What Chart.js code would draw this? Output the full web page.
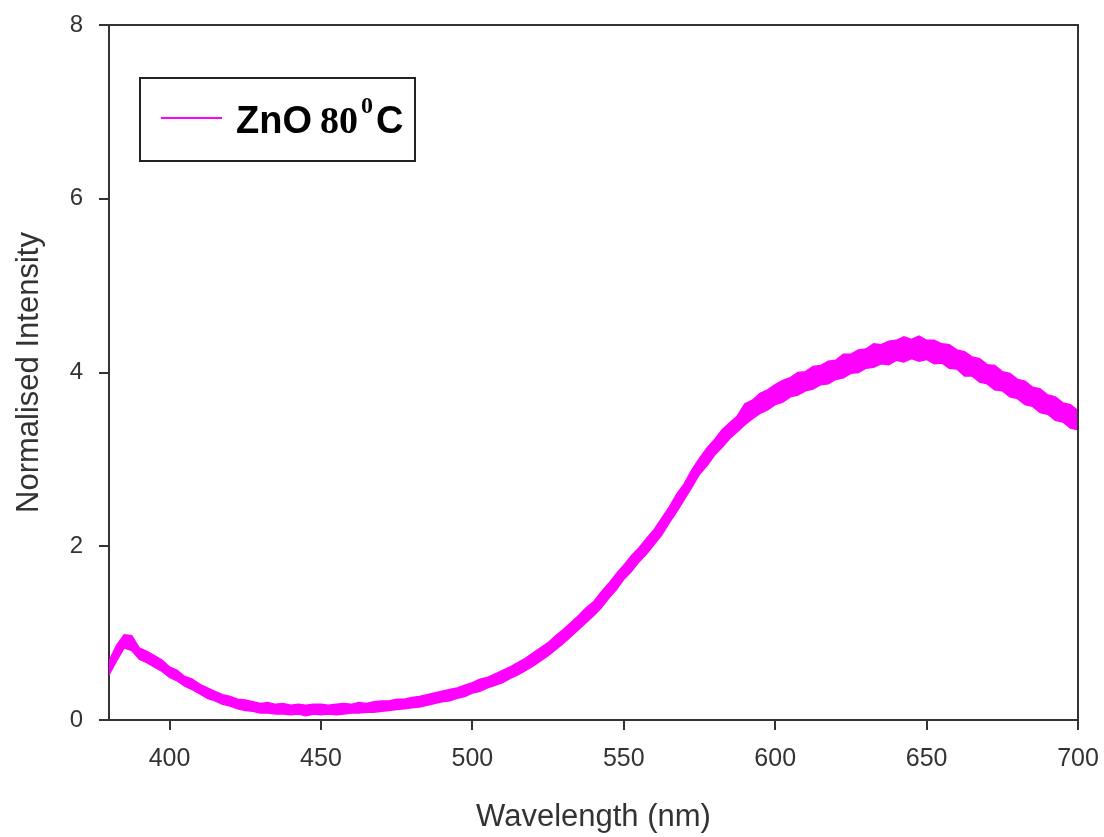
<!DOCTYPE html>
<html>
<head>
<meta charset="utf-8">
<title>ZnO 80 C spectrum</title>
<script src="https://cdn.jsdelivr.net/npm/chart.js@4.4.1/dist/chart.umd.min.js"></script>
<style>
  html, body { margin: 0; padding: 0; background: #fff; }
  canvas { display: block; }
</style>
</head>
<body>
<canvas id="c" width="1104" height="837"></canvas>
<script>
// --- data (wavelength in nm, normalised intensity) ---
// the trace is a noisy band, so it is kept as a lower and an upper edge
const wavelength = [
  380, 382.5, 385, 387.5, 390, 392.5, 395, 397.5, 400, 402.5, 405, 407.5, 410, 412.5, 415, 417.5,
  420, 422.5, 425, 427.5, 430, 432.5, 435, 437.5, 440, 442.5, 445, 447.5, 450, 452.5, 455, 457.5,
  460, 462.5, 465, 467.5, 470, 472.5, 475, 477.5, 480, 482.5, 485, 487.5, 490, 492.5, 495, 497.5,
  500, 502.5, 505, 507.5, 510, 512.5, 515, 517.5, 520, 522.5, 525, 527.5, 530, 532.5, 535, 537.5,
  540, 542.5, 545, 547.5, 550, 552.5, 555, 557.5, 560, 562.5, 565, 567.5, 570, 572.5, 575, 577.5,
  580, 582.5, 585, 587.5, 590, 592.5, 595, 597.5, 600, 602.5, 605, 607.5, 610, 612.5, 615, 617.5,
  620, 622.5, 625, 627.5, 630, 632.5, 635, 637.5, 640, 642.5, 645, 647.5, 650, 652.5, 655, 657.5,
  660, 662.5, 665, 667.5, 670, 672.5, 675, 677.5, 680, 682.5, 685, 687.5, 690, 692.5, 695, 697.5,
  700];
const bandLow = [
  0.52, 0.68, 0.83, 0.80, 0.70, 0.66, 0.61, 0.56, 0.49, 0.45, 0.39, 0.35, 0.30, 0.25, 0.22, 0.18,
  0.16, 0.13, 0.11, 0.10, 0.08, 0.08, 0.07, 0.07, 0.06, 0.07, 0.05, 0.07, 0.06, 0.07, 0.06, 0.07,
  0.08, 0.08, 0.09, 0.09, 0.10, 0.11, 0.12, 0.13, 0.14, 0.15, 0.17, 0.19, 0.21, 0.22, 0.25, 0.27,
  0.31, 0.33, 0.37, 0.40, 0.43, 0.48, 0.52, 0.57, 0.62, 0.68, 0.74, 0.81, 0.88, 0.96, 1.04, 1.12,
  1.20, 1.29, 1.40, 1.50, 1.62, 1.71, 1.82, 1.91, 2.02, 2.13, 2.27, 2.40, 2.54, 2.68, 2.83, 2.93,
  3.05, 3.14, 3.24, 3.32, 3.40, 3.47, 3.53, 3.57, 3.63, 3.66, 3.72, 3.74, 3.79, 3.81, 3.86, 3.87,
  3.92, 3.94, 3.99, 4.00, 4.05, 4.06, 4.10, 4.09, 4.14, 4.12, 4.16, 4.13, 4.15, 4.10, 4.11, 4.05,
  4.04, 3.96, 3.96, 3.89, 3.87, 3.80, 3.79, 3.72, 3.70, 3.63, 3.61, 3.54, 3.52, 3.45, 3.43, 3.36,
  3.34];
const bandHigh = [
  0.68, 0.86, 0.98, 0.97, 0.83, 0.79, 0.74, 0.69, 0.61, 0.57, 0.50, 0.47, 0.41, 0.37, 0.33, 0.29,
  0.27, 0.24, 0.23, 0.21, 0.19, 0.20, 0.18, 0.19, 0.17, 0.18, 0.17, 0.18, 0.18, 0.17, 0.18, 0.19,
  0.18, 0.20, 0.19, 0.21, 0.22, 0.22, 0.24, 0.24, 0.26, 0.27, 0.29, 0.31, 0.33, 0.35, 0.37, 0.40,
  0.43, 0.47, 0.49, 0.53, 0.57, 0.61, 0.66, 0.71, 0.77, 0.83, 0.89, 0.97, 1.04, 1.12, 1.20, 1.29,
  1.36, 1.47, 1.57, 1.68, 1.78, 1.89, 1.98, 2.09, 2.19, 2.32, 2.45, 2.60, 2.72, 2.88, 3.01, 3.13,
  3.23, 3.34, 3.42, 3.50, 3.64, 3.68, 3.76, 3.80, 3.86, 3.91, 3.94, 4.00, 4.01, 4.07, 4.08, 4.13,
  4.14, 4.21, 4.21, 4.26, 4.27, 4.33, 4.32, 4.36, 4.37, 4.41, 4.38, 4.42, 4.37, 4.37, 4.33, 4.32,
  4.26, 4.24, 4.18, 4.16, 4.09, 4.08, 4.01, 3.99, 3.92, 3.90, 3.83, 3.81, 3.74, 3.72, 3.65, 3.63,
  3.56];

const xTicks = [400, 450, 500, 550, 600, 650, 700];
const yTicks = [0, 2, 4, 6, 8];

const MAGENTA = '#ff00ff';
const AXIS = '#333333';

const pts = arr => arr.map((v, i) => ({ x: wavelength[i], y: v }));

// top/right frame lines and the boxed legend
const framePlugin = {
  id: 'frame',
  afterDraw(chart) {
    const { ctx, chartArea: a } = chart;
    ctx.save();
    ctx.strokeStyle = AXIS;
    ctx.lineWidth = 2;
    ctx.beginPath();
    ctx.moveTo(a.left, a.top);
    ctx.lineTo(a.right, a.top);
    ctx.lineTo(a.right, a.bottom);
    ctx.stroke();

    // legend
    const bx = a.left + 31, by = a.top + 53, bw = 275, bh = 83;
    ctx.strokeStyle = '#222';
    ctx.strokeRect(bx, by, bw, bh);
    ctx.strokeStyle = MAGENTA;
    ctx.beginPath();
    ctx.moveTo(bx + 21, by + 40);
    ctx.lineTo(bx + 82, by + 40);
    ctx.stroke();

    ctx.fillStyle = '#000';
    ctx.textBaseline = 'alphabetic';
    const base = by + 55;
    let x = bx + 96;
    ctx.font = 'bold 38px "Liberation Sans", Arial, sans-serif';
    ctx.fillText('ZnO', x, base);
    x += ctx.measureText('ZnO').width + 8;
    ctx.font = 'bold 38px "Liberation Serif", serif';
    ctx.fillText('80', x, base);
    x += ctx.measureText('80').width + 3;
    ctx.font = 'bold 24px "Liberation Serif", serif';
    ctx.fillText('0', x, base - 20);
    x += ctx.measureText('0').width + 3;
    ctx.font = 'bold 38px "Liberation Sans", Arial, sans-serif';
    ctx.fillText('C', x, base);
    ctx.restore();
  }
};

new Chart(document.getElementById('c'), {
  type: 'line',
  data: {
    datasets: [
      { label: 'low', data: pts(bandLow), borderColor: MAGENTA, borderWidth: 1.5, pointRadius: 0, fill: false, tension: 0 },
      { label: 'ZnO 80°C', data: pts(bandHigh), borderColor: MAGENTA, borderWidth: 1.5, pointRadius: 0,
        backgroundColor: MAGENTA, fill: '-1', tension: 0 }
    ]
  },
  options: {
    responsive: false,
    animation: false,
    layout: { autoPadding: false, padding: { top: 25, right: 26, left: 0, bottom: 0 } },
    plugins: { legend: { display: false }, tooltip: { enabled: false } },
    scales: {
      x: {
        type: 'linear', min: 380, max: 700,
        afterBuildTicks: s => { s.ticks = xTicks.map(v => ({ value: v })); },
        afterFit: s => { s.height = 117; s.paddingLeft = 0; s.paddingRight = 0; },
        grid: { drawOnChartArea: false, drawTicks: true, tickLength: 10, color: AXIS, lineWidth: 2 },
        border: { display: true, color: AXIS, width: 2 },
        ticks: { color: AXIS, padding: 14, maxRotation: 0, font: { family: '"Liberation Sans", Arial', size: 25 } },
        title: { display: true, text: 'Wavelength (nm)', color: AXIS, padding: { top: 0, bottom: 1 },
          font: { family: '"Liberation Sans", Arial', size: 31 } }
      },
      y: {
        min: 0, max: 8,
        afterBuildTicks: s => { s.ticks = yTicks.map(v => ({ value: v })); },
        afterFit: s => { s.width = 109; s.paddingTop = 0; s.paddingBottom = 0; },
        grid: { drawOnChartArea: false, drawTicks: true, tickLength: 10, color: AXIS, lineWidth: 2 },
        border: { display: true, color: AXIS, width: 2 },
        ticks: { color: AXIS, padding: 16, font: { family: '"Liberation Sans", Arial', size: 24 } },
        title: { display: true, text: 'Normalised Intensity', color: AXIS, padding: { top: 11, bottom: 0 },
          font: { family: '"Liberation Sans", Arial', size: 31 } }
      }
    }
  },
  plugins: [framePlugin]
});
</script>
</body>
</html>
